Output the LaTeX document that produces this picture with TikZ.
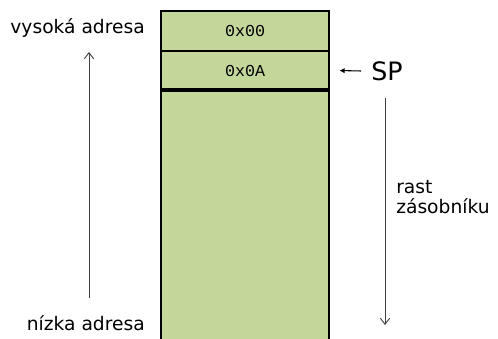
\documentclass[tikz,border=0pt]{standalone}
\usepackage{fontspec}
\setmainfont{DejaVu Sans}
\setmonofont{Liberation Mono}
\usetikzlibrary{arrows.meta}
\usetikzlibrary{positioning}
\definecolor{stackgreen}{RGB}{196,215,155}
\tikzset{
    cell/.style={minimum width=126pt,inner sep=0pt,font=\ttfamily\fontsize{12.5}{14}\selectfont},
    label/.style={font=\fontsize{14}{15}\selectfont},
    updown/.style={line width=0.7pt,draw=black!75,-{Straight Barb[length=4.5pt,width=7pt]}}
}
\begin{document}
\begin{tikzpicture}[x=0.75pt,y=-0.75pt]
	\clip (0,0) rectangle (498,338);
	\fill[white] (0,0) rectangle (498,338);

	% the stack itself, running off the bottom
	\draw[line width=1.5pt,fill=stackgreen] (161,11) rectangle (329,360);
	\node[cell,minimum height=30pt] (top) at (245,31) {0x00};
	\node[cell,minimum height=28.5pt,below=0pt of top] (sp) {0x0A};
	\draw[line width=1.5pt] (top.south west) -- (top.south east);
	\draw[line width=3pt] (sp.south west) -- (sp.south east);

	% addresses
	\node[label,anchor=east,inner sep=0pt] (high) at (145,28) {vysoká adresa};
	\node[label,anchor=east,inner sep=0pt] (low) at (145,323) {nízka adresa};
	\coordinate (lowend) at (89,298);
	\coordinate (highend) at (89,52);
	\draw[updown] (lowend) -- (highend);

	% stack pointer
	\node[font=\fontsize{19}{22}\selectfont,anchor=west,inner sep=0pt] (sptext) at (371,71) {SP};
	\draw[line width=0.8pt,-{Latex[length=4pt,width=4pt]}] ([xshift=-7.5pt]sptext.west) -- ([xshift=7.5pt]sp.east);

	% growth direction
	\coordinate (growtop) at (385,98);
	\coordinate (growbot) at (385,325);
	\draw[updown] (growtop) -- (growbot);
	\node[label,anchor=west,align=left,inner sep=0pt] (grow) at (396,197) {rast\\zásobníku};
\end{tikzpicture}
\end{document}
